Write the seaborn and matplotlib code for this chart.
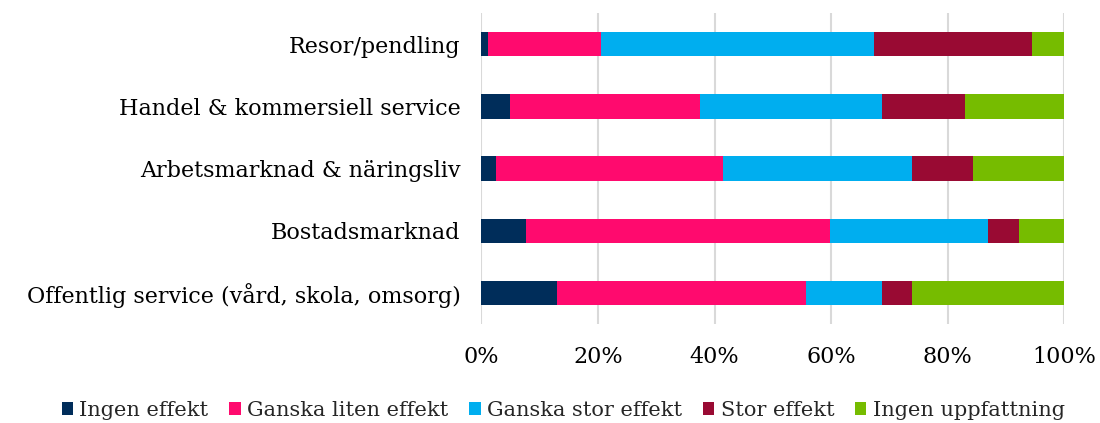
import matplotlib
matplotlib.use("Agg")
import matplotlib.pyplot as plt
from matplotlib.patches import Patch
import numpy as np
import pandas as pd
import seaborn as sns

# categories, top to bottom
areas = [
    "Resor/pendling",
    "Handel & kommersiell service",
    "Arbetsmarknad & näringsliv",
    "Bostadsmarknad",
    "Offentlig service (vård, skola, omsorg)",
]
series_names = ["Ingen effekt", "Ganska liten effekt", "Ganska stor effekt",
                "Stor effekt", "Ingen uppfattning"]

# shares in percent, per area (same order as areas)
ingen_effekt = [1.2, 4.9, 2.5, 7.7, 12.9]
ganska_liten = [19.3, 32.6, 38.9, 52.0, 42.8]
ganska_stor = [46.8, 31.2, 32.5, 27.2, 13.0]
stor_effekt = [27.2, 14.3, 10.4, 5.3, 5.2]
ingen_uppfattning = [5.5, 17.0, 15.7, 7.8, 26.1]

colors = ["#002d5a", "#ff0a6e", "#00aeef", "#990a33", "#76bc00"]

sns.set_theme(style="white")
plt.rcParams["font.family"] = ["DejaVu Serif"]

df = pd.DataFrame({
    "area": areas,
    series_names[0]: ingen_effekt,
    series_names[1]: ganska_liten,
    series_names[2]: ganska_stor,
    series_names[3]: stor_effekt,
    series_names[4]: ingen_uppfattning,
})
cum = df[series_names].cumsum(axis=1)

fig = plt.figure(figsize=(11, 4.23), dpi=100)
ax = fig.add_axes([0.4377, 0.234, 0.53, 0.735])

# draw cumulative bars from the outermost segment inwards
for name, col in reversed(list(zip(series_names, colors))):
    sns.barplot(x=cum[name].values, y=df["area"], orient="h", color=col,
                saturation=1, width=0.39, linewidth=0, ax=ax)

ax.set_xlim(0, 100)
ax.set_ylim(4.5, -0.5)
ax.set_xticks(np.arange(0, 101, 20))
ax.set_xticklabels([f"{v}%" for v in range(0, 101, 20)])
ax.xaxis.grid(True, color="#d9d9d9", linewidth=1.5)
ax.set_axisbelow(True)
for s in ax.spines.values():
    s.set_visible(False)
ax.tick_params(axis="x", length=0, labelsize=16, colors="#000000", pad=16)
ax.tick_params(axis="y", length=0, labelsize=16, colors="#000000", pad=15)
ax.set_xlabel("")
ax.set_ylabel("")

handles = [Patch(facecolor=c, edgecolor="none", label=n)
           for n, c in zip(series_names, colors)]
fig.legend(handles=handles, loc="center", bbox_to_anchor=(0.512, 0.03),
           ncol=5, frameon=False, fontsize=15, handlelength=0.55,
           handleheight=0.55, handletextpad=0.3, columnspacing=1.0)

fig.savefig("out.png", dpi=100)
